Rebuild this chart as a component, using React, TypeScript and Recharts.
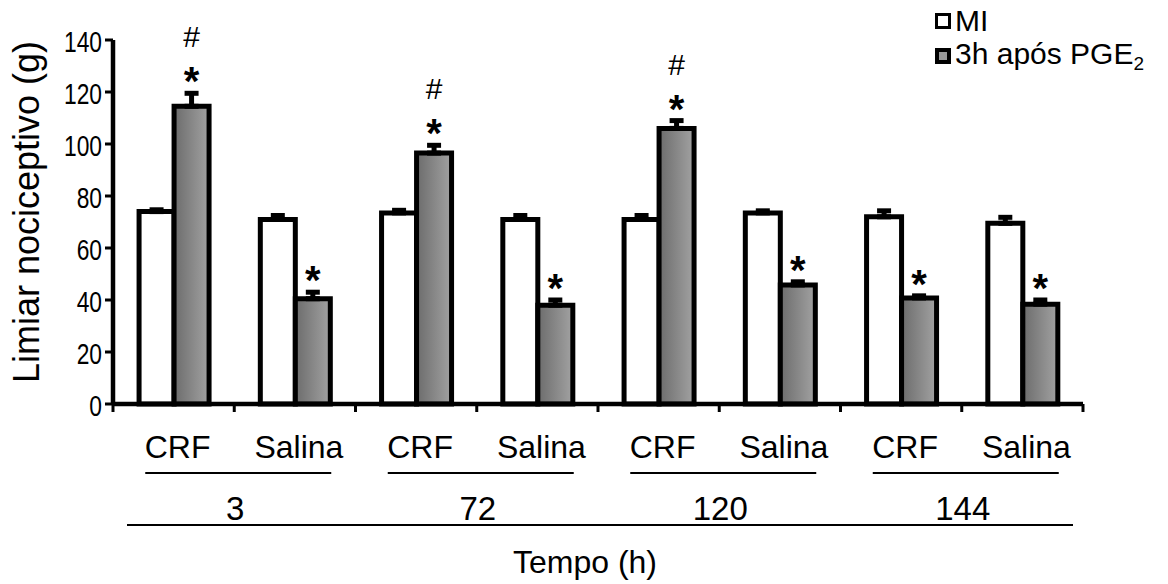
import React from 'react';
import { BarChart, Bar, XAxis, YAxis, ErrorBar, LabelList, Legend } from 'recharts';

const categories = ['CRF', 'Salina', 'CRF', 'Salina', 'CRF', 'Salina', 'CRF', 'Salina'];
const groups = ['3', '3', '72', '72', '120', '120', '144', '144'];
const miValues = [74, 71, 73.5, 71, 71, 73.5, 72, 69.5];
const miErrors = [0.7, 1.5, 1, 1.5, 1.5, 0.8, 2.3, 2.3];
const pgeValues = [114.5, 40.5, 96.5, 38, 106, 45.8, 40.8, 38.4];
const pgeErrors = [5, 2.5, 3, 2, 3, 1.2, 0.8, 1.6];
const pgeMarks = ['*#', '*', '*#', '*', '*#', '*', '*', '*'];
const yTicks = [0, 20, 40, 60, 80, 100, 120, 140];

const data = categories.map((c, i) => ({
  cat: c,
  group: groups[i],
  mi: miValues[i],
  miErr: [0, miErrors[i]],
  pge: pgeValues[i],
  pgeErr: [0, pgeErrors[i]],
  mark: pgeMarks[i],
}));

const W = 1168;
const H = 584;
const MARGIN = { top: 40, right: 85, bottom: 0, left: 13 };
const Y_AXIS_W = 100;
const PLOT_W = W - MARGIN.left - MARGIN.right - Y_AXIS_W;
const BAND = PLOT_W / categories.length;
const GROUP_BAND = PLOT_W / 4;
const FONT = '"Liberation Sans", Arial, sans-serif';

const YTick = (props: any) => {
  const { x, y, payload } = props;
  return (
    <g transform={`translate(${x},${y + 2}) scale(0.76,1)`}>
      <text x={0} y={0} textAnchor="end" dominantBaseline="central" fontSize={30} fontFamily={FONT} fill="#000">
        {payload.value}
      </text>
    </g>
  );
};

const CatTick = (props: any) => {
  const { x, y, payload, index, visibleTicksCount } = props;
  const isLast = index === (visibleTicksCount ?? categories.length) - 1;
  return (
    <g>
      <line x1={x - BAND / 2} y1={y} x2={x - BAND / 2} y2={y + 8} stroke="#000" strokeWidth={3} />
      {isLast && <line x1={x + BAND / 2} y1={y} x2={x + BAND / 2} y2={y + 8} stroke="#000" strokeWidth={3} />}
      <text x={x + 4} y={y + 54} textAnchor="middle" fontSize={32} fontFamily={FONT} fill="#000">
        {payload.value}
      </text>
    </g>
  );
};

const GroupTick = (props: any) => {
  const { x, y, payload, index } = props;
  return (
    <g>
      <line x1={x - 89} y1={y - 1} x2={x + 97} y2={y - 1} stroke="#000" strokeWidth={1.8} />
      <text x={x + 1} y={y + 46} textAnchor="middle" fontSize={33} fontFamily={FONT} fill="#000">
        {payload.value}
      </text>
      {index === 0 && (
        <line
          x1={x - GROUP_BAND / 2 + 14}
          y1={y + 51}
          x2={x - GROUP_BAND / 2 + 4 * GROUP_BAND - 10}
          y2={y + 51}
          stroke="#000"
          strokeWidth={1.8}
        />
      )}
    </g>
  );
};

const YLabel = (props: any) => {
  const { viewBox } = props;
  const cx = viewBox.x + 26;
  const cy = viewBox.y + viewBox.height / 2 - 10;
  return (
    <text
      x={cx}
      y={cy}
      transform={`rotate(-90, ${cx}, ${cy})`}
      textAnchor="middle"
      fontSize={36}
      fontFamily={FONT}
      fill="#000"
    >
      Limiar nociceptivo (g)
    </text>
  );
};

const XLabel = (props: any) => {
  const { viewBox } = props;
  return (
    <text
      x={viewBox.x + viewBox.width / 2 - 13}
      y={viewBox.y + 99}
      textAnchor="middle"
      fontSize={32}
      fontFamily={FONT}
      fill="#000"
    >
      Tempo (h)
    </text>
  );
};

const MarkLabel = (props: any) => {
  const { x, y, width, height, value, index } = props;
  if (!value) return null;
  const v = pgeValues[index];
  const pxPerUnit = height / v;
  const capY = y - pgeErrors[index] * pxPerUnit;
  const cx = x + width / 2;
  const starC = capY - 20;
  const hashC = starC - 37;
  return (
    <g>
      {value.includes('*') && (
        <text x={cx} y={starC + 22} textAnchor="middle" fontSize={40} fontWeight="bold" fontFamily={FONT} fill="#000">
          *
        </text>
      )}
      {value.includes('#') && (
        <text x={cx} y={hashC + 11} textAnchor="middle" fontSize={30} fontFamily={FONT} fill="#000">
          #
        </text>
      )}
    </g>
  );
};

const LegendContent = () => (
  <div style={{ fontFamily: FONT, fontSize: 30, color: '#000', lineHeight: 1 }}>
    <div style={{ display: 'flex', alignItems: 'center', height: 35 }}>
      <span
        style={{
          display: 'inline-block',
          width: 10,
          height: 10,
          border: '3px solid #000',
          background: '#fff',
          marginRight: 4,
        }}
      />
      <span>MI</span>
    </div>
    <div style={{ display: 'flex', alignItems: 'center', height: 35 }}>
      <span
        style={{
          display: 'inline-block',
          width: 8,
          height: 8,
          border: '4px solid #000',
          background: '#999',
          marginRight: 4,
        }}
      />
      <span>
        3h após PGE<sub style={{ fontSize: 19, verticalAlign: '-0.3em' }}>2</sub>
      </span>
    </div>
  </div>
);

export default function App() {
  return (
    <div style={{ position: 'absolute', left: 0, top: 0, background: '#fff' }}>
      <BarChart width={W} height={H} data={data} margin={MARGIN} barGap={0} barCategoryGap="21.5%">
        <defs>
          <linearGradient id="grayGrad" x1="0" y1="0" x2="1" y2="0">
            <stop offset="0%" stopColor="#6c6c6c" />
            <stop offset="100%" stopColor="#a2a2a2" />
          </linearGradient>
        </defs>
        <XAxis
          dataKey="cat"
          xAxisId={0}
          height={70}
          axisLine={{ stroke: '#000', strokeWidth: 4.5 }}
          tickLine={false}
          tickSize={0}
          tickMargin={0}
          tick={<CatTick />}
          interval={0}
        />
        <XAxis
          dataKey="group"
          xAxisId="grp"
          allowDuplicatedCategory={false}
          height={110}
          axisLine={false}
          tickLine={false}
          tickSize={0}
          tickMargin={0}
          tick={<GroupTick />}
          interval={0}
          label={<XLabel />}
        />
        <YAxis
          width={Y_AXIS_W}
          domain={[0, 140]}
          ticks={yTicks}
          interval={0}
          axisLine={{ stroke: '#000', strokeWidth: 4.5 }}
          tickLine={{ stroke: '#000', strokeWidth: 3 }}
          tickSize={8}
          tickMargin={3}
          tick={<YTick />}
          label={<YLabel />}
        />
        <Legend
          layout="horizontal"
          verticalAlign="middle"
          align="center"
          content={<LegendContent />}
          wrapperStyle={{ left: 935, top: 3, width: 240, height: 75 }}
        />
        <Bar dataKey="mi" fill="#fff" stroke="#000" strokeWidth={5} isAnimationActive={false}>
          <ErrorBar dataKey="miErr" width={7} strokeWidth={5} stroke="#000" direction="y" />
        </Bar>
        <Bar dataKey="pge" fill="url(#grayGrad)" stroke="#000" strokeWidth={5} isAnimationActive={false}>
          <ErrorBar dataKey="pgeErr" width={7} strokeWidth={5} stroke="#000" direction="y" />
          <LabelList dataKey="mark" content={<MarkLabel />} />
        </Bar>
      </BarChart>
    </div>
  );
}
